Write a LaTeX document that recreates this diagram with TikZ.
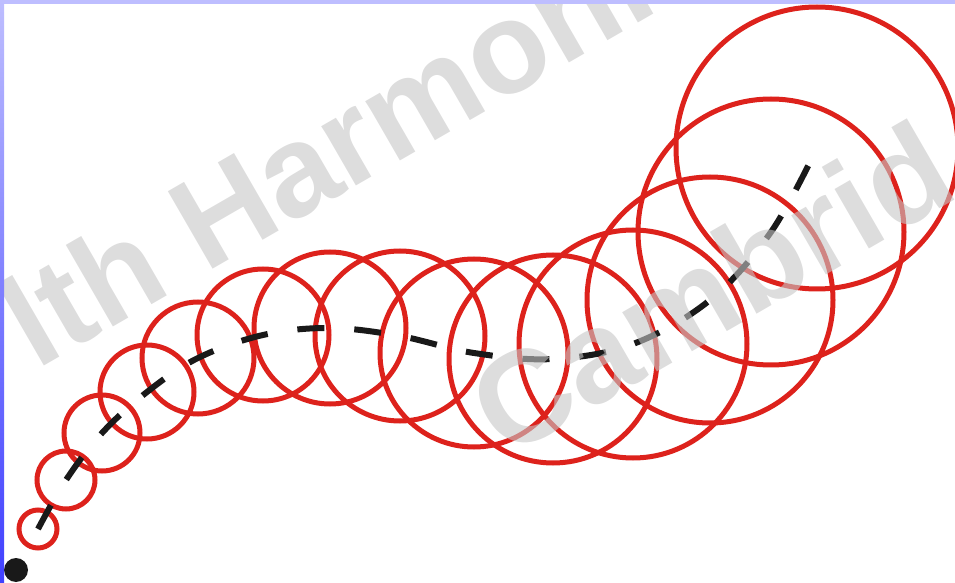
\documentclass[tikz,border=0pt]{standalone}
\usepackage{fontspec}
\newfontfamily\markfont{Liberation Sans}
\definecolor{ringred}{RGB}{221,34,28}
\definecolor{markgray}{RGB}{198,198,198}
\definecolor{edgeblue}{RGB}{190,190,255}
\definecolor{edgedeep}{RGB}{64,64,255}

\begin{document}
\begin{tikzpicture}[x=0.5pt, y=-0.5pt,
    ring/.style={draw=ringred, line width=2.5pt},
    trail/.style={draw=black!90, line width=3pt, dash pattern=on 13.5pt off 15pt},
    watermark/.style={text=markgray, opacity=0.6, rotate=30, anchor=base west, inner sep=0pt,
      font=\markfont\bfseries\fontsize{65pt}{65pt}\selectfont}]
    \useasboundingbox (0,0) rectangle (955,583);
    \clip (0,0) rectangle (955,583);

    % Rings, growing along the path
    \foreach \n/\x/\y/\r in {1/38/529/19, 2/66/480/29, 3/102/433/38, 4/147/392/47,
        5/198/358/56, 6/263/335/66, 7/330/328/76, 8/400/336/85, 9/474/353/94,
        10/553/359/104, 11/633/344/114, 12/710/300/123, 13/771/232/133, 14/817/148/141} {
      \coordinate (c\n) at (\x,\y);
      \draw[ring] (c\n) circle[radius=\r];
    }

    % Dashed trail through the centres
    \draw[trail] plot[smooth, tension=0.6] coordinates {(c1) (c2) (c3) (c4) (c5) (c6) (c7)
        (c8) (c9) (c10) (c11) (c12) (c13) (c14)};

    % Starting point
    \fill[black!90] (16,570) circle[radius=12];

    % Watermark
    \node[watermark] (markA) at (36,371) {lth Harmoni};
    \node[watermark] (markB) at (505,460) {Cambrid};

    % Frame edges
    \fill[edgeblue] (0,0) rectangle (955,4);
    \shade[top color=edgeblue, bottom color=edgedeep] (0,0) rectangle (4,583);
  \end{tikzpicture}
\end{document}
